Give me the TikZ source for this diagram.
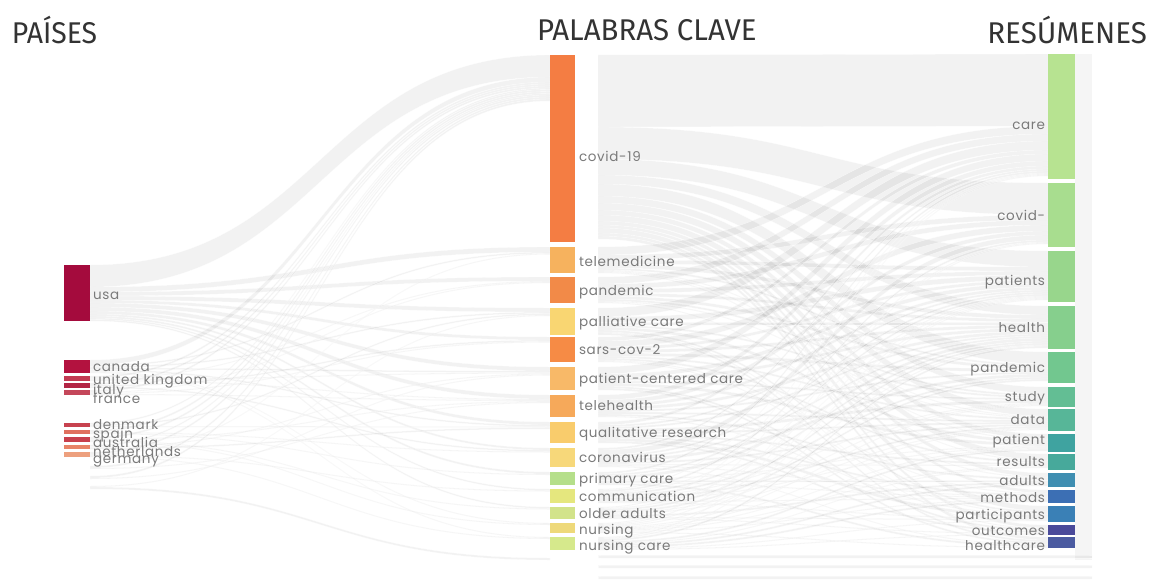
\documentclass[tikz,border=0pt]{standalone}
\usepackage{graphicx}
\usepackage{fontspec}
\setmainfont{Poppins}
\newfontfamily\labfont[LetterSpace=5]{Poppins}
\newfontfamily\headfont{Fira Sans}
\usetikzlibrary{calc}
\pgfdeclarelayer{bg}
\pgfsetlayers{bg,main}
% colours
\definecolor{cUsa}{HTML}{A40B3D}\definecolor{cCanada}{HTML}{B3123F}
\definecolor{cUk}{HTML}{C23A52}\definecolor{cItaly}{HTML}{B32545}
\definecolor{cFrance}{HTML}{C4475A}\definecolor{cDenmark}{HTML}{C7424F}
\definecolor{cSpain}{HTML}{E0705F}\definecolor{cAustralia}{HTML}{C8404D}
\definecolor{cNether}{HTML}{E88468}\definecolor{cGermany}{HTML}{EDA07E}
\definecolor{cCovid}{HTML}{F47D43}\definecolor{cTelemed}{HTML}{F6B25E}
\definecolor{cPandemic}{HTML}{F28A48}\definecolor{cPalli}{HTML}{F9D672}
\definecolor{cSars}{HTML}{F68B45}\definecolor{cPcc}{HTML}{F8B968}
\definecolor{cTelehealth}{HTML}{F6A95A}\definecolor{cQual}{HTML}{F9CC6C}
\definecolor{cCorona}{HTML}{F7D87A}\definecolor{cPrimary}{HTML}{B5DF8A}
\definecolor{cComm}{HTML}{E5E77E}\definecolor{cOlder}{HTML}{D2E38A}
\definecolor{cNursing}{HTML}{EED97A}\definecolor{cNcare}{HTML}{D6E98C}
\definecolor{cCare}{HTML}{B7E391}\definecolor{cCovidr}{HTML}{A8DD8F}
\definecolor{cPatients}{HTML}{98D68C}\definecolor{cHealth}{HTML}{86CF8D}
\definecolor{cPandr}{HTML}{72C78F}\definecolor{cStudy}{HTML}{63BE94}
\definecolor{cData}{HTML}{57B698}\definecolor{cPatient}{HTML}{3FA3A0}
\definecolor{cResults}{HTML}{47A99B}\definecolor{cAdults}{HTML}{3F8EB1}
\definecolor{cMethods}{HTML}{3C6FB4}\definecolor{cPartic}{HTML}{3A80B6}
\definecolor{cOutcomes}{HTML}{4A4A9A}\definecolor{cHcare}{HTML}{4B5BA1}
\definecolor{labgray}{HTML}{7A7A7A}
\definecolor{headgray}{HTML}{333333}
% sankey band machinery
\newcommand\skinit[1]{%
  \expandafter\gdef\csname skO@#1\endcsname{0}%
  \expandafter\gdef\csname skI@#1\endcsname{0}}
\newcommand\skband[5]{%
  \pgfmathsetmacro\skA{\csname skO@#1\endcsname}%
  \pgfmathsetmacro\skB{\csname skI@#2\endcsname}%
  \pgfmathsetmacro\skAe{\skA+#3}%
  \pgfmathsetmacro\skBe{\skB+#3}%
  \expandafter\xdef\csname skO@#1\endcsname{\skAe}%
  \expandafter\xdef\csname skI@#2\endcsname{\skBe}%
  \path[skflow] ([xshift=#4pt,yshift=-\skA pt]#1.north east)
     .. controls +(#5,0) and +(-#5,0) .. ([yshift=-\skB pt]#2.north west)
     -- ([yshift=-\skBe pt]#2.north west)
     .. controls +(-#5,0) and +(#5,0) .. ([xshift=#4pt,yshift=-\skAe pt]#1.north east)
     -- cycle;}
\newcommand\bl[3]{\skband{#1}{#2}{#3}{0}{230}}
\newcommand\br[3]{\skband{#1}{#2}{#3}{23}{225}}
\begin{document}
\begin{tikzpicture}[x=1pt,y=-1pt,
  bar/.style={rectangle,inner sep=0pt,outer sep=0pt,anchor=north west,draw=none},
  lab/.style={inner sep=0pt,outer sep=0pt,text=labgray,font=\labfont\fontsize{13.5}{14}\selectfont},
  head/.style={inner sep=0pt,outer sep=0pt,text=headgray,font=\headfont\fontsize{30}{31}\selectfont},
  skflow/.style={fill=black,fill opacity=0.05,draw=white,draw opacity=0.6,line width=0.4pt}]
\useasboundingbox (0,0) rectangle (1161,586);
% headings
\node[head,anchor=west] (hpaises) at (12,30) {\scalebox{0.945}[1]{PAÍSES}};
\node[head,anchor=west] (hpalabras) at (537,30) {\scalebox{0.98}[1]{PALABRAS CLAVE}};
\node[head,anchor=east] (hresumenes) at (1147,30) {\scalebox{0.985}[1]{RESÚMENES}};
% left column
\node[bar,minimum width=26pt,minimum height=56pt,fill=cUsa] (usa) at (64,265) {};
\node[bar,minimum width=26pt,minimum height=13pt,fill=cCanada] (canada) at (64,360) {};
\node[bar,minimum width=26pt,minimum height=5pt,fill=cUk] (uk) at (64,376) {};
\node[bar,minimum width=26pt,minimum height=5pt,fill=cItaly] (italy) at (64,383) {};
\node[bar,minimum width=26pt,minimum height=5pt,fill=cFrance] (france) at (64,390) {};
\node[bar,minimum width=26pt,minimum height=4pt,fill=cDenmark] (denmark) at (64,423) {};
\node[bar,minimum width=26pt,minimum height=4pt,fill=cSpain] (spain) at (64,430) {};
\node[bar,minimum width=26pt,minimum height=5pt,fill=cAustralia] (australia) at (64,437) {};
\node[bar,minimum width=26pt,minimum height=4pt,fill=cNether] (netherlands) at (64,445) {};
\node[bar,minimum width=26pt,minimum height=5pt,fill=cGermany] (germany) at (64,452) {};
\coordinate (ex1) at (90,466);
\coordinate (ex2) at (90,476);
\coordinate (ex3) at (90,486);
% middle column
\node[bar,minimum width=25pt,minimum height=187pt,fill=cCovid] (covid) at (550,55) {};
\node[bar,minimum width=25pt,minimum height=26pt,fill=cTelemed] (telemed) at (550,247) {};
\node[bar,minimum width=25pt,minimum height=26pt,fill=cPandemic] (pandemic) at (550,277) {};
\node[bar,minimum width=25pt,minimum height=27pt,fill=cPalli] (palli) at (550,308) {};
\node[bar,minimum width=25pt,minimum height=25pt,fill=cSars] (sars) at (550,337) {};
\node[bar,minimum width=25pt,minimum height=23pt,fill=cPcc] (pcc) at (550,367) {};
\node[bar,minimum width=25pt,minimum height=22pt,fill=cTelehealth] (telehealth) at (550,395) {};
\node[bar,minimum width=25pt,minimum height=21pt,fill=cQual] (qual) at (550,422) {};
\node[bar,minimum width=25pt,minimum height=19pt,fill=cCorona] (corona) at (550,448) {};
\node[bar,minimum width=25pt,minimum height=13pt,fill=cPrimary] (primary) at (550,472) {};
\node[bar,minimum width=25pt,minimum height=14pt,fill=cComm] (comm) at (550,489) {};
\node[bar,minimum width=25pt,minimum height=12pt,fill=cOlder] (older) at (550,507) {};
\node[bar,minimum width=25pt,minimum height=10pt,fill=cNursing] (nursing) at (550,523) {};
\node[bar,minimum width=25pt,minimum height=13pt,fill=cNcare] (ncare) at (550,537) {};
\coordinate (mx) at (550,558);
\coordinate (mb1) at (575,555);
\coordinate (mb2) at (575,565);
\coordinate (mb3) at (575,576);
% right column
\node[bar,minimum width=27pt,minimum height=125pt,fill=cCare] (care) at (1048,54) {};
\node[bar,minimum width=27pt,minimum height=64pt,fill=cCovidr] (covidr) at (1048,183) {};
\node[bar,minimum width=27pt,minimum height=51pt,fill=cPatients] (patients) at (1048,251) {};
\node[bar,minimum width=27pt,minimum height=43pt,fill=cHealth] (health) at (1048,306) {};
\node[bar,minimum width=27pt,minimum height=31pt,fill=cPandr] (pandr) at (1048,352) {};
\node[bar,minimum width=27pt,minimum height=20pt,fill=cStudy] (study) at (1048,387) {};
\node[bar,minimum width=27pt,minimum height=22pt,fill=cData] (data) at (1048,409) {};
\node[bar,minimum width=27pt,minimum height=18pt,fill=cPatient] (patient) at (1048,434) {};
\node[bar,minimum width=27pt,minimum height=16pt,fill=cResults] (results) at (1048,454) {};
\node[bar,minimum width=27pt,minimum height=14pt,fill=cAdults] (adults) at (1048,473) {};
\node[bar,minimum width=27pt,minimum height=13pt,fill=cMethods] (methods) at (1048,490) {};
\node[bar,minimum width=27pt,minimum height=16pt,fill=cPartic] (partic) at (1048,506) {};
\node[bar,minimum width=27pt,minimum height=10pt,fill=cOutcomes] (outcomes) at (1048,525) {};
\node[bar,minimum width=27pt,minimum height=11pt,fill=cHcare] (hcare) at (1048,537) {};
\coordinate (rb1) at (1092,555);
\coordinate (rb2) at (1092,565);
\coordinate (rb3) at (1092,576);
% init offsets
\foreach \n in {usa,canada,uk,italy,france,denmark,spain,australia,netherlands,germany,ex1,ex2,ex3,
  covid,telemed,pandemic,palli,sars,pcc,telehealth,qual,corona,primary,comm,older,nursing,ncare,mx,mb1,mb2,mb3,
  care,covidr,patients,health,pandr,study,data,patient,results,adults,methods,partic,outcomes,hcare,rb1,rb2,rb3}
  {\skinit{\n}}
\begin{pgfonlayer}{bg}
\fill[white] (0,0) rectangle (1161,586);
\fill[black,opacity=0.04] (care.north east) rectangle (1092,560);
% left -> middle
\bl{usa}{covid}{22}\bl{usa}{telemed}{5}\bl{usa}{pandemic}{4}\bl{usa}{palli}{4}
\bl{usa}{sars}{3}\bl{usa}{pcc}{4}\bl{usa}{telehealth}{4}\bl{usa}{qual}{3}
\bl{usa}{corona}{2}\bl{usa}{primary}{2}\bl{usa}{comm}{1.5}\bl{usa}{older}{1.5}
\bl{canada}{covid}{5}\bl{canada}{telemed}{1.5}\bl{canada}{palli}{1.5}\bl{canada}{pcc}{1.5}
\bl{canada}{qual}{1.5}\bl{canada}{nursing}{1}\bl{canada}{ncare}{1}
\bl{uk}{covid}{2}\bl{uk}{pandemic}{1}\bl{uk}{pcc}{1}\bl{uk}{telehealth}{1}
\bl{italy}{covid}{2}\bl{italy}{sars}{1.5}\bl{italy}{corona}{1.5}
\bl{france}{covid}{2}\bl{france}{pandemic}{1}\bl{france}{sars}{1}\bl{france}{telehealth}{1}
\bl{denmark}{covid}{1.5}\bl{denmark}{palli}{1.5}\bl{denmark}{qual}{1}
\bl{spain}{covid}{2}\bl{spain}{corona}{1}\bl{spain}{primary}{1}
\bl{australia}{covid}{2}\bl{australia}{telehealth}{1}\bl{australia}{older}{1}\bl{australia}{nursing}{1}
\bl{netherlands}{covid}{1.5}\bl{netherlands}{pcc}{1}\bl{netherlands}{qual}{1.5}
\bl{germany}{covid}{2}\bl{germany}{telemed}{1}\bl{germany}{comm}{1}\bl{germany}{ncare}{1}
\bl{ex1}{covid}{2}\bl{ex1}{telehealth}{1}
\bl{ex2}{covid}{2}\bl{ex2}{pcc}{1}
\bl{ex3}{palli}{1}\bl{ex3}{mx}{2}
% middle -> right
\br{covid}{care}{72}\br{covid}{covidr}{32}\br{covid}{patients}{16}\br{covid}{health}{9}
\br{covid}{pandr}{12}\br{covid}{study}{7}\br{covid}{data}{7}\br{covid}{patient}{5}
\br{covid}{results}{6}\br{covid}{adults}{4}\br{covid}{methods}{3}\br{covid}{partic}{5}
\br{covid}{outcomes}{3}\br{covid}{hcare}{3}
\br{telemed}{care}{8}\br{telemed}{covidr}{5}\br{telemed}{patients}{4}\br{telemed}{health}{4}
\br{telemed}{pandr}{2}\br{telemed}{data}{1}\br{telemed}{patient}{1}\br{telemed}{results}{1}
\br{pandemic}{care}{7}\br{pandemic}{covidr}{5}\br{pandemic}{patients}{4}\br{pandemic}{health}{3}
\br{pandemic}{pandr}{3}\br{pandemic}{study}{2}\br{pandemic}{data}{1}\br{pandemic}{adults}{1}
\br{palli}{care}{9}\br{palli}{patients}{5}\br{palli}{health}{3}\br{palli}{study}{2}
\br{palli}{patient}{3}\br{palli}{partic}{2}\br{palli}{outcomes}{1}\br{palli}{hcare}{2}
\br{sars}{care}{4}\br{sars}{covidr}{6}\br{sars}{patients}{3}\br{sars}{health}{3}
\br{sars}{pandr}{3}\br{sars}{data}{2}\br{sars}{results}{2}\br{sars}{methods}{1}\br{sars}{partic}{1}
\br{pcc}{care}{7}\br{pcc}{patients}{4}\br{pcc}{health}{3}\br{pcc}{study}{2}
\br{pcc}{patient}{3}\br{pcc}{outcomes}{2}\br{pcc}{hcare}{2}
\br{telehealth}{care}{5}\br{telehealth}{covidr}{4}\br{telehealth}{patients}{3}\br{telehealth}{health}{3}
\br{telehealth}{pandr}{2}\br{telehealth}{data}{2}\br{telehealth}{adults}{2}\br{telehealth}{partic}{1}
\br{qual}{care}{3}\br{qual}{patients}{2}\br{qual}{health}{2}\br{qual}{study}{3}\br{qual}{data}{2}
\br{qual}{results}{2}\br{qual}{methods}{2}\br{qual}{partic}{3}\br{qual}{outcomes}{2}
\br{corona}{care}{2}\br{corona}{covidr}{5}\br{corona}{patients}{2}\br{corona}{health}{2}
\br{corona}{pandr}{3}\br{corona}{data}{2}\br{corona}{results}{1}\br{corona}{methods}{1}\br{corona}{hcare}{1}
\br{primary}{care}{2}\br{primary}{patients}{2}\br{primary}{health}{3}\br{primary}{patient}{1}
\br{primary}{adults}{2}\br{primary}{methods}{1}\br{primary}{hcare}{2}
\br{comm}{care}{1}\br{comm}{covidr}{2}\br{comm}{patients}{1}\br{comm}{health}{2}\br{comm}{pandr}{2}
\br{comm}{study}{1}\br{comm}{data}{2}\br{comm}{patient}{1}\br{comm}{methods}{1}\br{comm}{partic}{1}
\br{older}{care}{1}\br{older}{patients}{1}\br{older}{health}{2}\br{older}{pandr}{2}\br{older}{study}{1}
\br{older}{data}{1}\br{older}{adults}{2}\br{older}{partic}{1}\br{older}{outcomes}{1}
\br{nursing}{care}{1}\br{nursing}{covidr}{1}\br{nursing}{patients}{1}\br{nursing}{health}{1}
\br{nursing}{study}{1}\br{nursing}{data}{1}\br{nursing}{patient}{1}\br{nursing}{results}{1}
\br{nursing}{methods}{1}\br{nursing}{hcare}{1}
\br{ncare}{covidr}{1}\br{ncare}{patients}{1}\br{ncare}{health}{2}\br{ncare}{patient}{2}
\br{ncare}{results}{1}\br{ncare}{adults}{2}\br{ncare}{methods}{2}\br{ncare}{partic}{1}\br{ncare}{outcomes}{1}
\br{mb1}{rb1}{3}\br{mb2}{rb2}{3}\br{mb3}{rb3}{3}
\end{pgfonlayer}
% left labels
\node[lab,anchor=mid west] (usa-l) at (93,297) {usa};
\node[lab,anchor=mid west] (canada-l) at (93,369) {canada};
\node[lab,anchor=mid west] (uk-l) at (93,382) {united kingdom};
\node[lab,anchor=mid west] (italy-l) at (93,392) {italy};
\node[lab,anchor=mid west] (france-l) at (93,401) {france};
\node[lab,anchor=mid west] (denmark-l) at (93,427) {denmark};
\node[lab,anchor=mid west] (spain-l) at (93,436) {spain};
\node[lab,anchor=mid west] (australia-l) at (93,445) {australia};
\node[lab,anchor=mid west] (netherlands-l) at (93,454) {netherlands};
\node[lab,anchor=mid west] (germany-l) at (93,461) {germany};
% middle labels
\node[lab,anchor=mid west] (covid-l) at (579,159) {covid-19};
\node[lab,anchor=mid west] (telemed-l) at (579,264) {telemedicine};
\node[lab,anchor=mid west] (pandemic-l) at (579,293) {pandemic};
\node[lab,anchor=mid west] (palli-l) at (579,324) {palliative care};
\node[lab,anchor=mid west] (sars-l) at (579,352) {sars-cov-2};
\node[lab,anchor=mid west] (pcc-l) at (579,381) {patient-centered care};
\node[lab,anchor=mid west] (telehealth-l) at (579,408) {telehealth};
\node[lab,anchor=mid west] (qual-l) at (579,435) {qualitative research};
\node[lab,anchor=mid west] (corona-l) at (579,460) {coronavirus};
\node[lab,anchor=mid west] (primary-l) at (579,481) {primary care};
\node[lab,anchor=mid west] (comm-l) at (579,499) {communication};
\node[lab,anchor=mid west] (older-l) at (579,516) {older adults};
\node[lab,anchor=mid west] (nursing-l) at (579,532) {nursing};
\node[lab,anchor=mid west] (ncare-l) at (579,548) {nursing care};
% right labels
\node[lab,anchor=mid east] (care-l) at (1045,127) {care};
\node[lab,anchor=mid east] (covidr-l) at (1045,218) {covid-};
\node[lab,anchor=mid east] (patients-l) at (1045,283) {patients};
\node[lab,anchor=mid east] (health-l) at (1045,330) {health};
\node[lab,anchor=mid east] (pandr-l) at (1045,370) {pandemic};
\node[lab,anchor=mid east] (study-l) at (1045,399) {study};
\node[lab,anchor=mid east] (data-l) at (1045,422) {data};
\node[lab,anchor=mid east] (patient-l) at (1045,442) {patient};
\node[lab,anchor=mid east] (results-l) at (1045,464) {results};
\node[lab,anchor=mid east] (adults-l) at (1045,483) {adults};
\node[lab,anchor=mid east] (methods-l) at (1045,500) {methods};
\node[lab,anchor=mid east] (partic-l) at (1045,517) {participants};
\node[lab,anchor=mid east] (outcomes-l) at (1045,533) {outcomes};
\node[lab,anchor=mid east] (hcare-l) at (1045,548) {healthcare};
\end{tikzpicture}
\end{document}
